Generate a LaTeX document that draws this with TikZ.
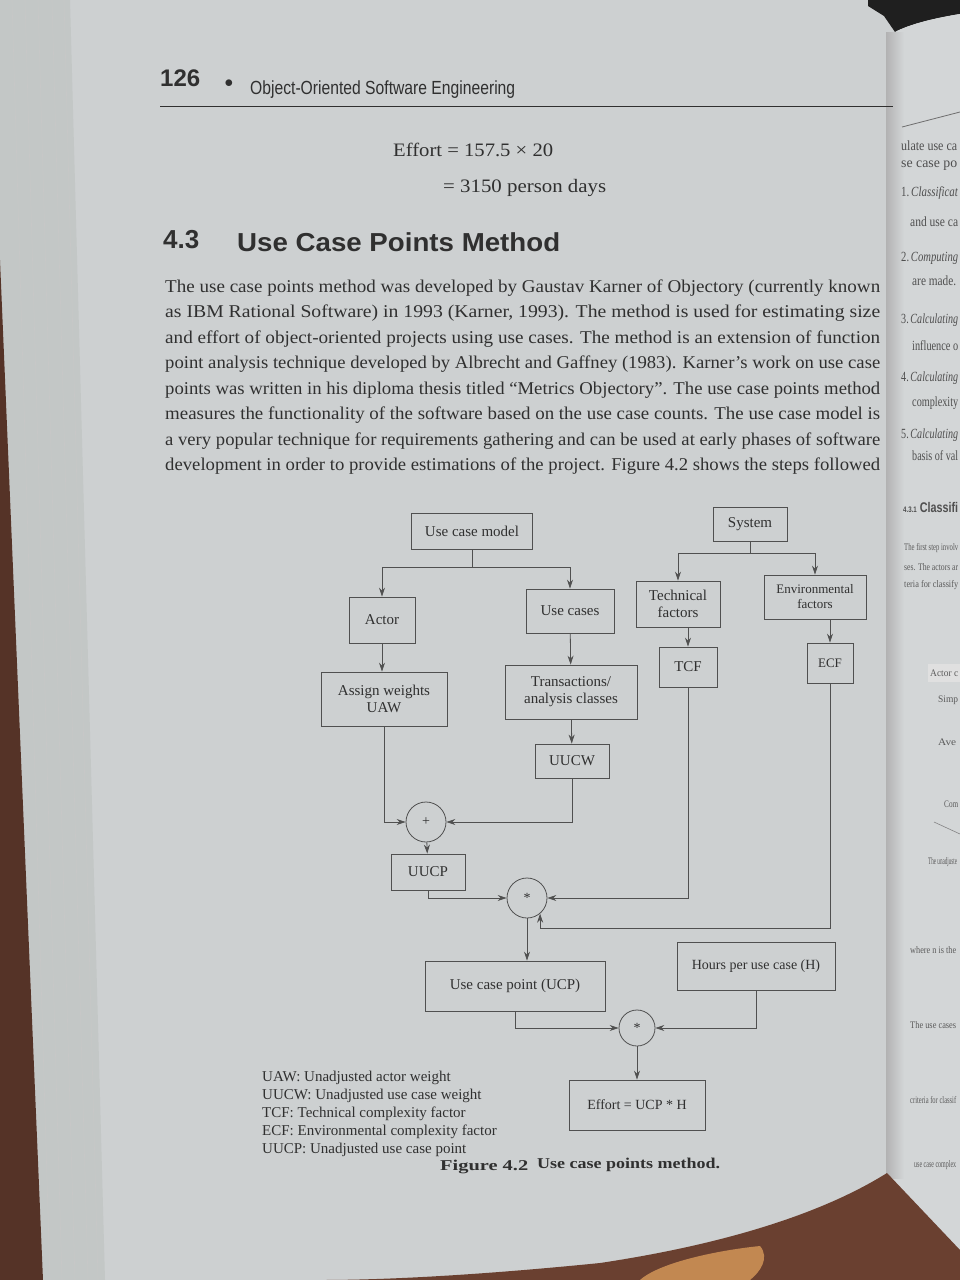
\documentclass[tikz,border=0pt]{standalone}
\usepackage{fontspec}
\setmainfont{Liberation Serif}
\setsansfont{Liberation Sans}
\usepackage{graphicx}
\usetikzlibrary{arrows.meta,calc}

\definecolor{paper}{HTML}{CDD0D1}
\definecolor{paperedge}{HTML}{C3C7C6}
\definecolor{facing}{HTML}{D3D6D7}
\definecolor{ink}{HTML}{303030}
\definecolor{wire}{HTML}{505050}
\definecolor{wood}{HTML}{6A4030}
\definecolor{woodlight}{HTML}{D99A5A}

% fixed-width text line, scaled horizontally only
\newcommand{\fitline}[2]{\resizebox{#1}{\height}{#2}}

\begin{document}
\begin{tikzpicture}[x=1pt,y=-1pt,
  box/.style={draw=wire, line width=0.8pt, align=center, text=ink,
    font=\fontsize{15}{17}\selectfont, inner sep=3pt},
  op/.style={circle, draw=wire, line width=0.8pt, minimum size=40pt,
    inner sep=0pt, text=ink, font=\fontsize{14}{16}\selectfont},
  link/.style={draw=wire, line width=0.8pt},
  arr/.style={link, -{Stealth[length=9pt,width=6pt]}},
  body/.style={anchor=west, inner sep=0pt, text=ink,
    font=\fontsize{18}{20}\selectfont},
  legend/.style={anchor=west, inner sep=0pt, text=ink,
    font=\fontsize{15}{17}\selectfont},
  nextpg/.style={anchor=west, inner sep=0pt, text=ink!85,
    font=\fontsize{14}{15}\selectfont},
  nextsm/.style={anchor=west, inner sep=0pt, text=ink!80,
    font=\fontsize{10}{11}\selectfont}
]
\useasboundingbox (0,0) rectangle (960,1280);

% ---- surroundings: page, page stack, facing page, table ----
\fill[paper] (0,0) rectangle (960,1280);
\fill[paperedge] (0,0) -- (70,0) -- (105,1280) -- (43,1280) -- (0,260) -- cycle;
\foreach \a/\b in {12/50, 25/62, 38/75, 52/88, 64/98}
  \draw[black!22, line width=0.6pt] (\a,0) -- (\b,1280);
\fill[wood!80!black] (0,260) -- (43,1280) -- (0,1280) -- cycle;
\fill[black!88] (868,0) -- (960,0) -- (960,14)
  .. controls (935,18) and (910,24) .. (895,32) -- (884,16) -- (868,6) -- cycle;
\fill[facing] (895,32) .. controls (910,24) and (935,18) .. (960,14)
  -- (960,1250) -- (887,1173) -- cycle;
\shade[left color=black!30, right color=facing] (886,32) rectangle (904,1178);

% facing page: the inner ends of its lines
\draw[ink!70, line width=0.8pt] (902,127) -- (960,112);
\node[nextpg] (f1) at (901,146) {\fitline{56pt}{ulate use ca}};
\node[nextpg] (f2) at (901,166) {\fitline{56pt}{se case po}};
\node[nextpg] (f3) at (901,193) {\fitline{57pt}{1.\,\textit{Classificat}}};
\node[nextpg] (f4) at (910,222) {\fitline{48pt}{and use ca}};
\node[nextpg] (f5) at (901,258) {\fitline{57pt}{2.\,\textit{Computing}}};
\node[nextpg] (f6) at (912,281) {\fitline{44pt}{are made.}};
\node[nextpg] (f7) at (901,320) {\fitline{57pt}{3.\,\textit{Calculating}}};
\node[nextpg] (f8) at (912,346) {\fitline{46pt}{influence o}};
\node[nextpg] (f9) at (901,378) {\fitline{57pt}{4.\,\textit{Calculating}}};
\node[nextpg] (f10) at (912,403) {\fitline{46pt}{complexity}};
\node[nextpg] (f11) at (901,435) {\fitline{57pt}{5.\,\textit{Calculating}}};
\node[nextpg] (f12) at (912,456) {\fitline{46pt}{basis of val}};
\node[nextpg, font=\sffamily\bfseries\fontsize{14}{15}\selectfont] (f13) at (903,507)
  {\fitline{55pt}{{\fontsize{8}{8}\selectfont 4.3.1} Classifi}};
\node[nextsm] (f14) at (904,548) {\fitline{54pt}{The first step involv}};
\node[nextsm] (f15) at (904,567) {\fitline{54pt}{ses. The actors ar}};
\node[nextsm] (f16) at (904,585) {\fitline{54pt}{teria for classify}};
\fill[black!12] (928,664) rectangle (960,682);
\node[nextsm] (f17) at (930,673) {\fitline{28pt}{Actor c}};
\node[nextsm] (f18) at (938,700) {\fitline{20pt}{Simp}};
\node[nextsm] (f19) at (938,742) {\fitline{18pt}{Ave}};
\node[nextsm] (f20) at (944,804) {\fitline{14pt}{Com}};
\draw[ink!60, line width=0.6pt] (934,822) -- (960,834);
\node[nextsm] (f21) at (928,862) {\fitline{29pt}{The unadjuste}};
\node[nextsm] (f22) at (910,950) {\fitline{46pt}{where n is the}};
\node[nextsm] (f23) at (910,1025) {\fitline{46pt}{The use cases}};
\node[nextsm] (f24) at (910,1100) {\fitline{46pt}{criteria for classif}};
\node[nextsm] (f25) at (914,1165) {\fitline{42pt}{use case complex}};

\fill[wood] (887,1173) .. controls (820,1215) and (720,1245) .. (600,1263)
  .. controls (470,1276) and (380,1280) .. (320,1280) -- (960,1280) -- (960,1250) -- cycle;
\fill[woodlight, opacity=0.8] (640,1280) .. controls (660,1262) and (720,1250) .. (760,1246)
  .. controls (770,1258) and (760,1272) .. (750,1280) -- cycle;

% ---- running head ----
\node[anchor=west, inner sep=0pt, text=ink, font=\sffamily\bfseries\fontsize{24}{26}\selectfont]
  (pagenum) at (160,78) {126};
\node[inner sep=0pt, text=ink, font=\fontsize{16}{16}\selectfont] (dot) at (229,84) {$\bullet$};
\node[anchor=west, inner sep=0pt, text=ink, font=\sffamily\fontsize{19}{21}\selectfont]
  (runtitle) at (250,90) {\fitline{265pt}{Object-Oriented Software Engineering}};
\draw[ink, line width=1pt] (160,106) -- (893,106);

% ---- worked result ----
\node[body, font=\fontsize{19}{21}\selectfont] (eff1) at (393,150)
  {\fitline{160pt}{Effort = 157.5 × 20}};
\node[body, font=\fontsize{19}{21}\selectfont] (eff2) at (443,188)
  {\fitline{163pt}{= 3150 person days}};

% ---- section heading ----
\node[anchor=west, inner sep=0pt, text=ink, font=\sffamily\bfseries\fontsize{26}{28}\selectfont]
  (secnum) at (163,240) {4.3};
\node[anchor=west, inner sep=0pt, text=ink, font=\sffamily\bfseries\fontsize{26}{28}\selectfont]
  (sectitle) at (237,242) {\fitline{323pt}{Use Case Points Method}};

% ---- paragraph ----
\node[body] (p1) at (165,288) {\fitline{715pt}{The use case points method was developed by Gaustav Karner of Objectory (currently known}};
\node[body] (p2) at (165,313) {\fitline{715pt}{as IBM Rational Software) in 1993 (Karner, 1993). The method is used for estimating size}};
\node[body] (p3) at (165,339) {\fitline{715pt}{and effort of object-oriented projects using use cases. The method is an extension of function}};
\node[body] (p4) at (165,364) {\fitline{715pt}{point analysis technique developed by Albrecht and Gaffney (1983). Karner’s work on use case}};
\node[body] (p5) at (165,390) {\fitline{715pt}{points was written in his diploma thesis titled “Metrics Objectory”. The use case points method}};
\node[body] (p6) at (165,415) {\fitline{715pt}{measures the functionality of the software based on the use case counts. The use case model is}};
\node[body] (p7) at (165,441) {\fitline{715pt}{a very popular technique for requirements gathering and can be used at early phases of software}};
\node[body] (p8) at (165,466) {\fitline{715pt}{development in order to provide estimations of the project. Figure 4.2 shows the steps followed}};

% ---- flow chart ----
\node[box, minimum width=121pt, minimum height=36pt] (ucm) at (472,531) {Use case model};
\node[box, minimum width=74pt, minimum height=34pt] (sys) at (750,524) {System};
\node[box, minimum width=66pt, minimum height=46pt] (actor) at (382,620) {Actor};
\node[box, minimum width=88pt, minimum height=44pt] (ucases) at (570,611) {Use cases};
\node[box, minimum width=84pt, minimum height=46pt] (tech) at (678,604) {Technical\\factors};
\node[box, minimum width=102pt, minimum height=44pt, font=\fontsize{13}{15}\selectfont] (env) at (815,597) {Environmental\\factors};
\node[box, minimum width=58pt, minimum height=40pt] (tcf) at (688,667) {TCF};
\node[box, minimum width=46pt, minimum height=40pt, font=\fontsize{13}{15}\selectfont] (ecf) at (830,663) {ECF};
\node[box, minimum width=126pt, minimum height=54pt] (uaw) at (384,699) {Assign weights\\UAW};
\node[box, minimum width=132pt, minimum height=54pt] (trans) at (571,692) {Transactions/\\analysis classes};
\node[box, minimum width=74pt, minimum height=34pt] (uucw) at (572,761) {UUCW};
\node[op] (plus) at (426,822) {+};
\node[box, minimum width=74pt, minimum height=36pt] (uucp) at (428,872) {UUCP};
\node[op] (star1) at (527,898) {*};
\node[box, minimum width=180pt, minimum height=50pt] (ucp) at (515,986) {Use case point (UCP)};
\node[box, minimum width=158pt, minimum height=48pt, font=\fontsize{14}{16}\selectfont] (hours) at (756,966) {Hours per use case (H)};
\node[op, minimum size=36pt] (star2) at (637,1028) {*};
\node[box, minimum width=136pt, minimum height=50pt, font=\fontsize{14}{16}\selectfont] (effort) at (637,1105) {Effort = UCP * H};

% junctions of the two fan-outs and of the ECF return path
\coordinate (jm) at (472,567);
\coordinate (js) at (750,553);
\coordinate (je) at (star1.-50);
\coordinate (jb) at (je |- 0,928);

\draw[link] (ucm.south) -- (jm);
\draw[arr] (jm) -| (actor.north);
\draw[arr] (jm) -| (ucases.north);
\draw[link] (sys.south) -- (js);
\draw[arr] (js) -| (tech.north);
\draw[arr] (js) -| (env.north);

\draw[arr] (actor.south) -- (actor.south |- uaw.north);
\draw[arr] (ucases) -- (trans);
\draw[arr] (trans) -- (uucw);
\draw[arr] (tcf.north |- tech.south) -- (tcf.north);
\draw[arr] (ecf.north |- env.south) -- (ecf.north);

\draw[arr] (uaw.south) |- (plus.west);
\draw[arr] (uucw.south) |- (plus.east);
\draw[arr] (plus) -- (uucp);
\draw[arr] (uucp.south) |- (star1.west);
\draw[arr] (tcf.south) |- (star1.east);
\draw[arr] (ecf.south) |- (jb) -- (je);
\draw[arr] (star1.south) -- (star1.south |- ucp.north);
\draw[arr] (ucp.south) |- (star2.west);
\draw[arr] (hours.south) |- (star2.east);
\draw[arr] (star2) -- (effort);

% ---- abbreviations ----
\node[legend] (l1) at (262,1078) {UAW: Unadjusted actor weight};
\node[legend] (l2) at (262,1096) {UUCW: Unadjusted use case weight};
\node[legend] (l3) at (262,1114) {TCF: Technical complexity factor};
\node[legend] (l4) at (262,1132) {ECF: Environmental complexity factor};
\node[legend] (l5) at (262,1150) {UUCP: Unadjusted use case point};

% ---- caption ----
\node[anchor=west, inner sep=0pt, text=ink, font=\bfseries\fontsize{15}{17}\selectfont]
  (figno) at (440,1167) {\fitline{88pt}{Figure 4.2}};
\node[anchor=west, inner sep=0pt, text=ink, font=\bfseries\fontsize{15}{17}\selectfont]
  (figtitle) at (537,1165) {\fitline{183pt}{Use case points method.}};
\end{tikzpicture}
\end{document}
